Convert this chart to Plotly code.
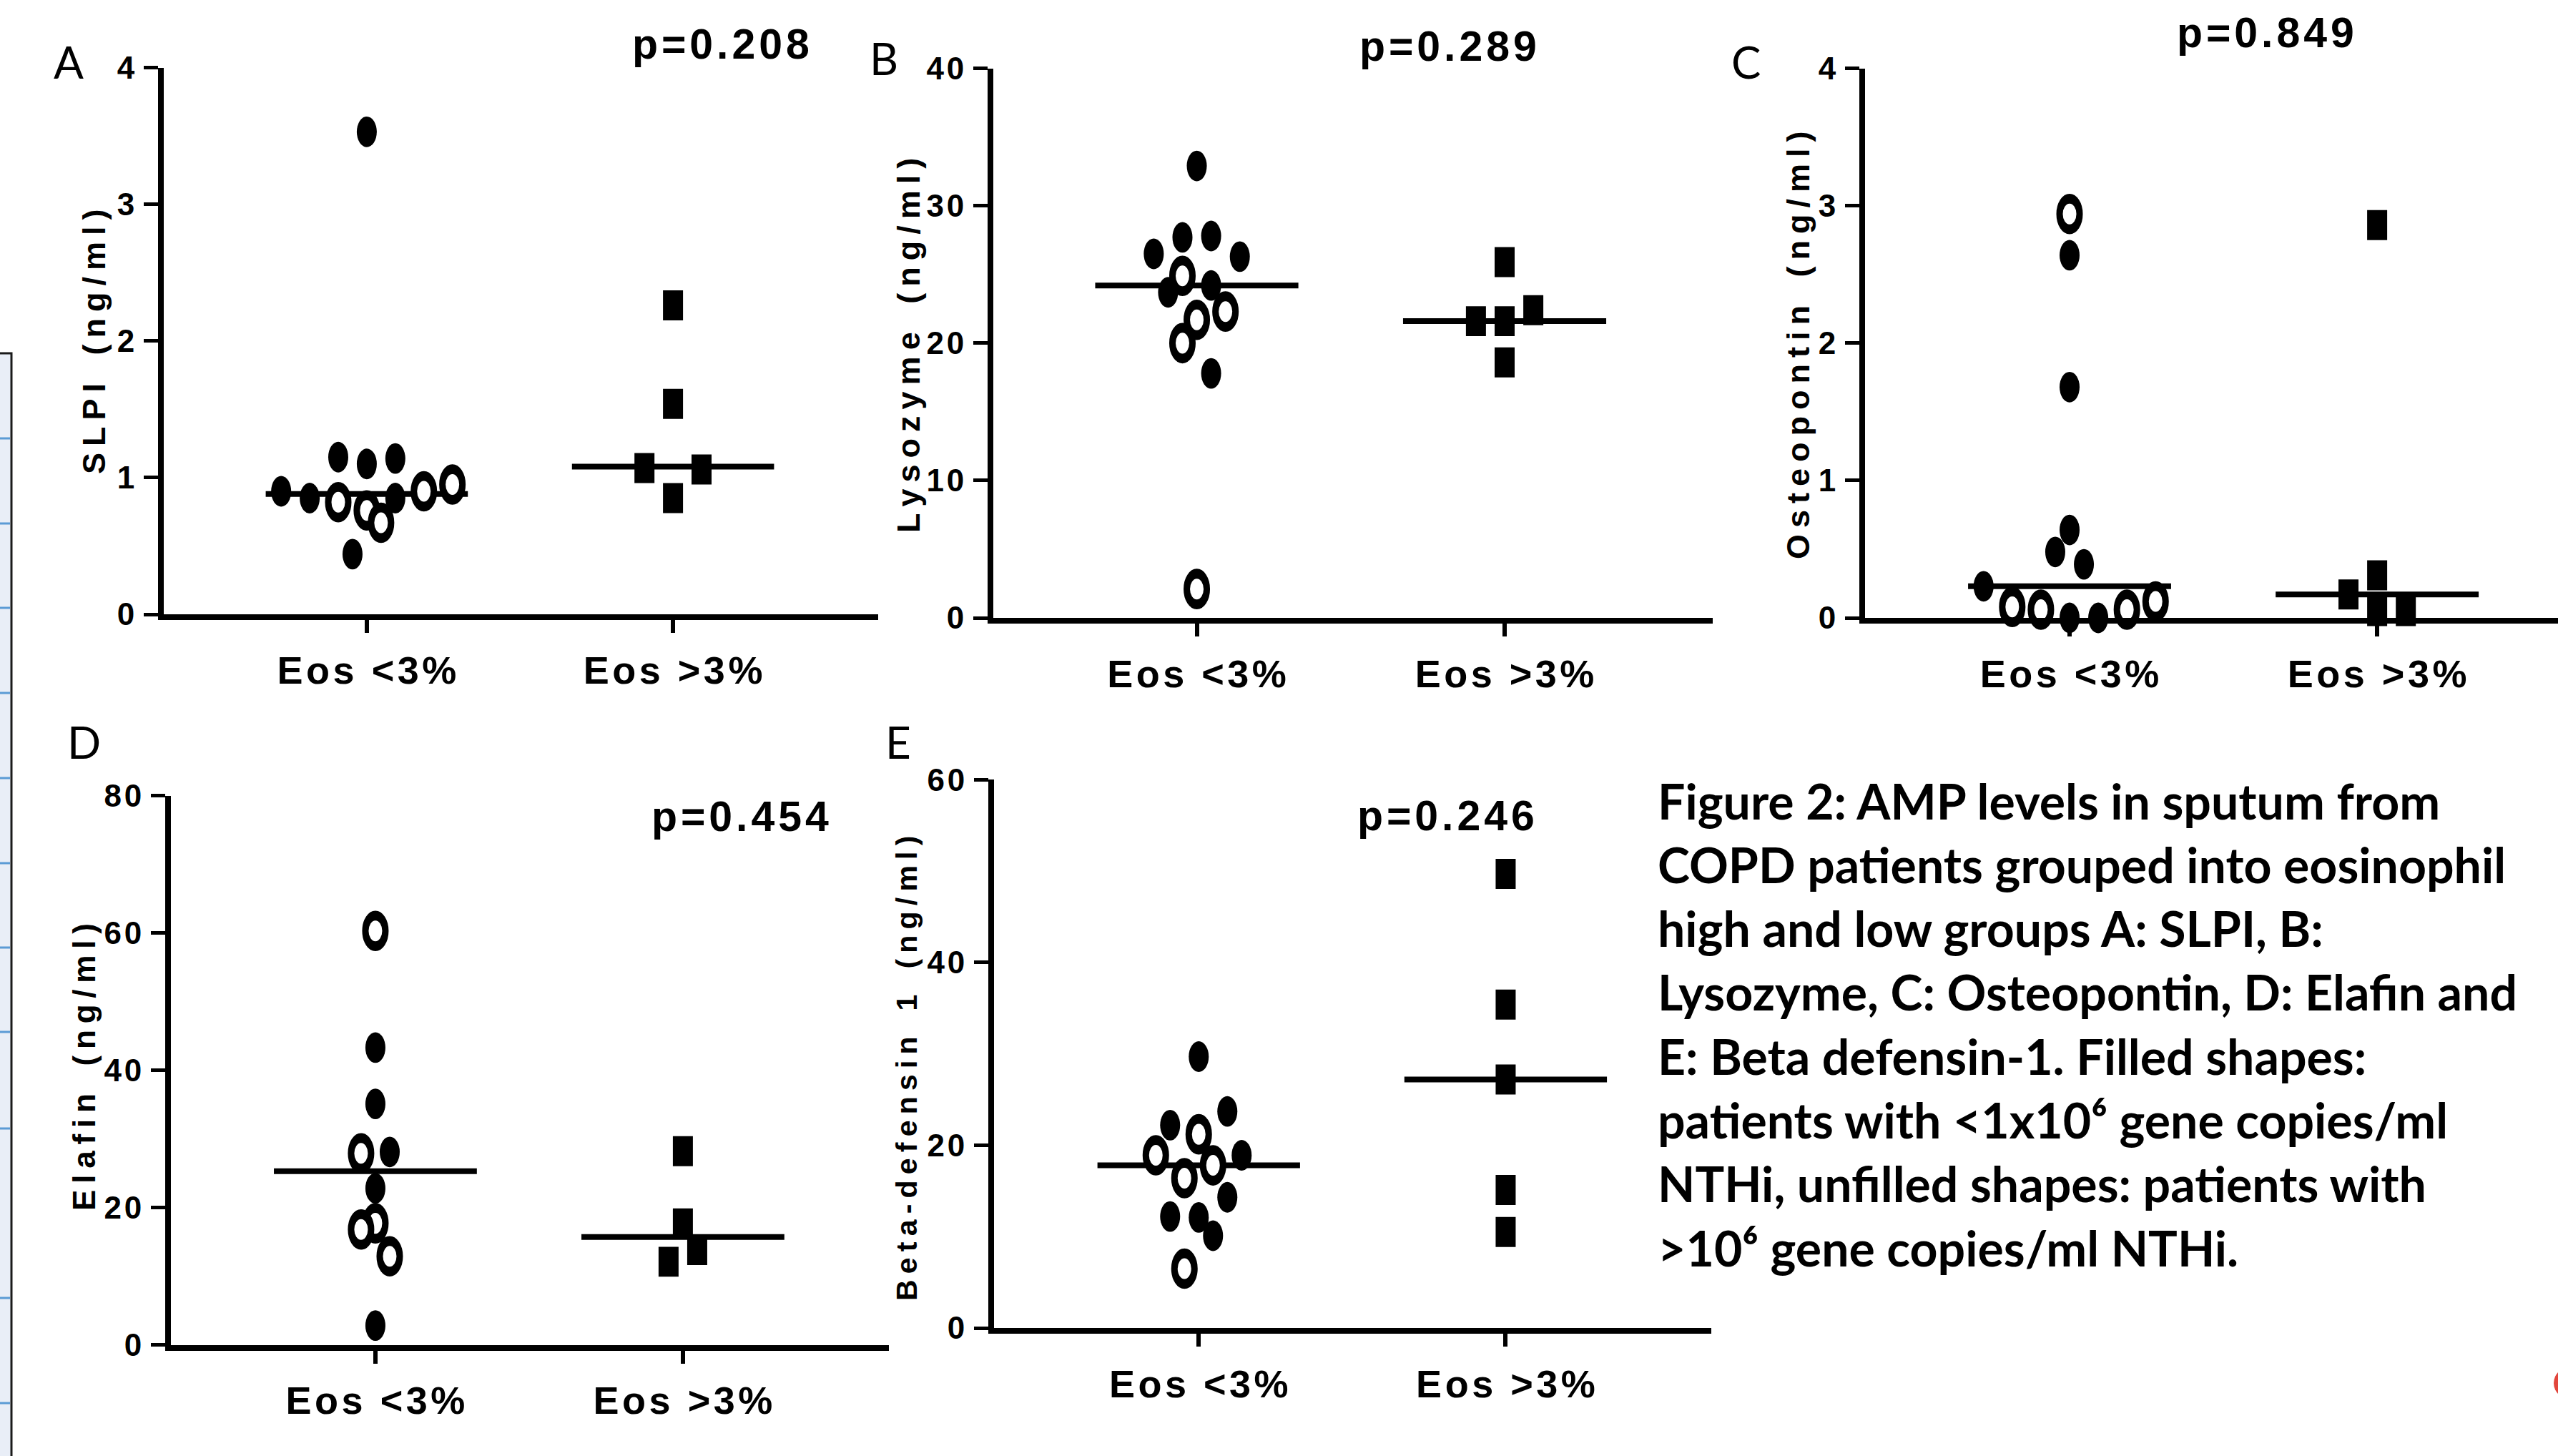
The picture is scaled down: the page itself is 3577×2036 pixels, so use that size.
import plotly.graph_objects as go

W, H = 3577, 2036

# ---------------- data ----------------
categories = ["Eos <3%", "Eos >3%"]

# A: SLPI (ng/ml)
slpi_low = [3.53, 1.15, 1.10, 1.14, 0.90, 0.85, 0.82, 0.76, 0.67, 0.85, 0.90, 0.95, 0.44]
slpi_low_unfilled = [0, 0, 0, 0, 0, 0, 1, 1, 1, 0, 1, 1, 0]
slpi_low_jitter = [0, -2, 0, 2, -6, -4, -2, 0, 1, 2, 4, 6, -1]
slpi_high = [2.26, 1.54, 1.07, 1.06, 0.85]
slpi_high_jitter = [0, 0, -2, 2, 0]
slpi_medians = [0.88, 1.08]
slpi_p = "p=0.208"

# B: Lysozyme (ng/ml)
lyso_low = [32.9, 27.7, 27.8, 26.5, 26.3, 24.9, 24.2, 23.7, 22.3, 21.7, 20.0, 17.8, 2.1]
lyso_low_unfilled = [0, 0, 0, 0, 0, 1, 0, 0, 1, 1, 1, 0, 1]
lyso_low_jitter = [0, -1, 1, -3, 3, -1, 1, -2, 2, 0, -1, 1, 0]
lyso_high = [25.9, 22.4, 21.6, 21.6, 18.6]
lyso_high_jitter = [0, 2, -2, 0, 0]
lyso_medians = [24.2, 21.6]
lyso_p = "p=0.289"

# C: Osteopontin (ng/ml)
osteo_low = [2.94, 2.64, 1.68, 0.64, 0.48, 0.39, 0.23, 0.08, 0.06, 0.0, 0.0, 0.06, 0.12]
osteo_low_unfilled = [1, 0, 0, 0, 0, 0, 0, 1, 1, 0, 0, 1, 1]
osteo_low_jitter = [0, 0, 0, 0, -1, 1, -6, -4, -2, 0, 2, 4, 6]
osteo_high = [2.86, 0.31, 0.17, 0.05, 0.05]
osteo_high_jitter = [0, 0, -2, 0, 2]
osteo_medians = [0.23, 0.17]
osteo_p = "p=0.849"

# D: Elafin (ng/ml)
elafin_low = [60.3, 43.3, 35.1, 27.9, 28.1, 22.8, 17.7, 16.8, 12.9, 2.8]
elafin_low_unfilled = [1, 0, 0, 1, 0, 0, 1, 1, 1, 0]
elafin_low_jitter = [0, 0, 0, -1, 1, 0, 0, -1, 1, 0]
elafin_high = [28.2, 17.7, 13.8, 12.1]
elafin_high_jitter = [0, 0, 1, -1]
elafin_medians = [25.3, 15.7]
elafin_p = "p=0.454"

# E: Beta-defensin 1 (ng/ml)
bd_low = [29.7, 23.7, 22.2, 21.2, 18.9, 18.9, 17.8, 16.4, 14.3, 12.2, 12.1, 10.1, 6.5]
bd_low_unfilled = [0, 0, 0, 1, 1, 0, 1, 1, 0, 0, 0, 0, 1]
bd_low_jitter = [0, 2, -2, 0, -3, 3, 1, -1, 2, -2, 0, 1, -1]
bd_high = [49.7, 35.4, 27.2, 15.1, 10.5]
bd_high_jitter = [0, 0, 0, 0, 0]
bd_medians = [17.8, 27.2]
bd_p = "p=0.246"

caption_lines = [
    "Figure 2: AMP levels in sputum from",
    "COPD patients grouped into eosinophil",
    "high and low groups A: SLPI, B:",
    "Lysozyme, C: Osteopontin, D: Elafin and",
    "E: Beta defensin-1. Filled shapes:",
    "patients with &lt;1x10\u2076 gene copies/ml",
    "NTHi, unfilled shapes: patients with",
    "&gt;10\u2076 gene copies/ml NTHi.",
]

# ---------------- styles ----------------
BOLDF = "Liberation Sans, Arial, DejaVu Sans, sans-serif"
CAPF = "Lato, Carlito, Calibri, Open Sans, DejaVu Sans, sans-serif"
HAIR = "\u200a"
THIN = "\u2009"
NBSP = "\u00a0"
JSTEP = 0.0466       # jitter step (category units)
MED_HALF = 0.33      # half width of median bar
STRETCH = 1.53       # markers in the original are vertically elongated

FILLED = dict(symbol="circle", size=28, color="black", line=dict(width=0))
UNFILLED = dict(symbol="circle", size=28, color="white", line=dict(color="black", width=9))
SQUARE = dict(symbol="line-ns", size=19.6, color="black", line=dict(color="black", width=28))


def fx(px):
    return px / W


def fy(py):
    return 1 - py / H


def spaced(text, sep=HAIR, space=NBSP):
    s = sep.join(space if ch == " " else ch for ch in text)
    return s.replace("<", "&lt;").replace(">", "&gt;")


panels = [
    dict(key="", title="SLPI (ng/ml)", low=slpi_low, unf=slpi_low_unfilled, lj=slpi_low_jitter,
         high=slpi_high, hj=slpi_high_jitter, med=slpi_medians, p=slpi_p,
         xpx=(229, 1228), ypx=(94.5, 859), xr=(-0.663, 1.67), ymax=4, dtick=1,
         letter="A", lpos=(96, 86), ppos=(1008, 62), tpos=(131, 478), tsize=45),
    dict(key="2", title="Lysozyme (ng/ml)", low=lyso_low, unf=lyso_low_unfilled, lj=lyso_low_jitter,
         high=lyso_high, hj=lyso_high_jitter, med=lyso_medians, p=lyso_p,
         xpx=(1389, 2395), ypx=(95.7, 864), xr=(-0.661, 1.676), ymax=40, dtick=10,
         letter="B", lpos=(1236, 81), ppos=(2025, 65), tpos=(1270, 483), tsize=45),
    dict(key="3", title="Osteopontin (ng/ml)", low=osteo_low, unf=osteo_low_unfilled, lj=osteo_low_jitter,
         high=osteo_high, hj=osteo_high_jitter, med=osteo_medians, p=osteo_p,
         xpx=(2608, 3577), ypx=(95.7, 864), xr=(-0.665, 1.588), ymax=4, dtick=1,
         letter="C", lpos=(2441, 86), ppos=(3168, 46), tpos=(2514, 483), tsize=45),
    dict(key="4", title="Elafin (ng/ml)", low=elafin_low, unf=elafin_low_unfilled, lj=elafin_low_jitter,
         high=elafin_high, hj=elafin_high_jitter, med=elafin_medians, p=elafin_p,
         xpx=(239, 1243), ypx=(1112.7, 1880.5), xr=(-0.665, 1.67), ymax=80, dtick=20,
         letter="D", lpos=(117, 1037), ppos=(1035, 1142), tpos=(117, 1492), tsize=44),
    dict(key="5", title="Beta-defensin 1 (ng/ml)", low=bd_low, unf=bd_low_unfilled, lj=bd_low_jitter,
         high=bd_high, hj=bd_high_jitter, med=bd_medians, p=bd_p,
         xpx=(1390, 2393), ypx=(1090.4, 1857), xr=(-0.667, 1.67), ymax=60, dtick=20,
         letter="E", lpos=(1256, 1037), ppos=(2022, 1141), tpos=(1268, 1494), tsize=41),
]

fig = go.Figure()
annotations = []
layout_axes = {}

for pn in panels:
    k = pn["key"]
    xa, ya = "x" + k, "y" + k
    common = dict(xaxis=xa, yaxis=ya, showlegend=False, hoverinfo="skip", cliponaxis=False)

    # median bars
    for ci, m in enumerate(pn["med"]):
        fig.add_trace(go.Scatter(x=[ci - MED_HALF, ci + MED_HALF], y=[m, m], mode="lines",
                                 line=dict(color="black", width=8), **common))
    # low group: filled / unfilled circles
    fxs = [j * JSTEP for j, u in zip(pn["lj"], pn["unf"]) if not u]
    fys = [v for v, u in zip(pn["low"], pn["unf"]) if not u]
    uxs = [j * JSTEP for j, u in zip(pn["lj"], pn["unf"]) if u]
    uys = [v for v, u in zip(pn["low"], pn["unf"]) if u]
    fig.add_trace(go.Scatter(x=fxs, y=fys, mode="markers", marker=FILLED, **common))
    fig.add_trace(go.Scatter(x=uxs, y=uys, mode="markers", marker=UNFILLED, **common))
    # high group: squares
    fig.add_trace(go.Scatter(x=[1 + j * JSTEP for j in pn["hj"]], y=pn["high"], mode="markers",
                             marker=SQUARE, **common))

    x0, x1 = pn["xpx"]
    ytop, ybot = pn["ypx"]
    yt = list(range(0, pn["ymax"] + 1, pn["dtick"]))
    layout_axes["xaxis" + k] = dict(
        domain=[fx(x0), fx(x1)], range=list(pn["xr"]), anchor=ya,
        showline=True, linewidth=8, linecolor="black",
        ticks="outside", ticklen=18, tickwidth=6, tickcolor="black",
        tickvals=[0, 1], ticktext=["<b>" + spaced(c) + "</b>" for c in categories],
        tickfont=dict(family=BOLDF, size=54, color="black"),
        ticklabelstandoff=6, showgrid=False, zeroline=False, fixedrange=True)
    layout_axes["yaxis" + k] = dict(
        domain=[fy(ybot), fy(ytop)], range=[0, pn["ymax"]], anchor=xa,
        showline=True, linewidth=8, linecolor="black",
        ticks="outside", ticklen=20, tickwidth=5, tickcolor="black",
        tickvals=yt, ticktext=["<b>" + spaced(str(v)) + "</b>" for v in yt],
        tickfont=dict(family=BOLDF, size=44, color="black"),
        ticklabelstandoff=4, showgrid=False, zeroline=False, fixedrange=True)

    annotations.append(dict(text="<b>" + spaced(pn["title"], sep=THIN, space=NBSP + THIN) + "</b>",
                            x=fx(pn["tpos"][0]), y=fy(pn["tpos"][1]), xref="paper", yref="paper",
                            xanchor="center", yanchor="middle", textangle=-90, showarrow=False,
                            font=dict(family=BOLDF, size=pn["tsize"], color="black")))
    annotations.append(dict(text=pn["letter"], x=fx(pn["lpos"][0]), y=fy(pn["lpos"][1]),
                            xref="paper", yref="paper", xanchor="center", yanchor="middle",
                            showarrow=False, font=dict(family=CAPF, size=62, color="black")))
    annotations.append(dict(text="<b>" + spaced(pn["p"]) + "</b>", x=fx(pn["ppos"][0]),
                            y=fy(pn["ppos"][1]), xref="paper", yref="paper",
                            xanchor="center", yanchor="middle", showarrow=False,
                            font=dict(family=BOLDF, size=59, color="black")))

# caption
for i, line in enumerate(caption_lines):
    baseline = 1147 + 89.3 * i
    annotations.append(dict(text="<b>" + line + "</b>", x=fx(2316), y=fy(baseline - 28),
                            xref="paper", yref="paper", xanchor="left", yanchor="middle",
                            showarrow=False, font=dict(family=CAPF, size=68, color="black")))

# decorations from the screenshot edges
shapes = [
    dict(type="rect", xref="paper", yref="paper", x0=fx(-10), x1=fx(16), y0=fy(2046), y1=fy(494),
         fillcolor="#e9eef7", line=dict(color="#1a1a1a", width=3), layer="below"),
    dict(type="circle", xref="paper", yref="paper", x0=fx(3571), x1=fx(3625), y0=fy(1958), y1=fy(1910),
         fillcolor="#e2463c", line=dict(width=0)),
]
for yb in [613, 732, 850, 969, 1088, 1207, 1325, 1443, 1578, 1815, 1962]:
    shapes.append(dict(type="line", xref="paper", yref="paper", x0=0, x1=fx(14), y0=fy(yb), y1=fy(yb),
                       line=dict(color="#5b9bd5", width=3)))

fig.update_layout(
    width=W, height=H, margin=dict(l=0, r=0, t=0, b=0, autoexpand=False),
    paper_bgcolor="white", plot_bgcolor="white",
    annotations=annotations, shapes=shapes, **layout_axes)

post = (
    "document.body.style.margin='0';document.body.style.overflow='hidden';"
    "var gd=document.getElementById('{plot_id}');"
    "gd.querySelectorAll('.scatterlayer path.point').forEach(function(p){"
    "var t=p.getAttribute('transform')||'';"
    "p.setAttribute('transform', t+' scale(1," + str(STRETCH) + ")');});"
)

fig.write_html("out.html", config=dict(displayModeBar=False), post_script=post)
